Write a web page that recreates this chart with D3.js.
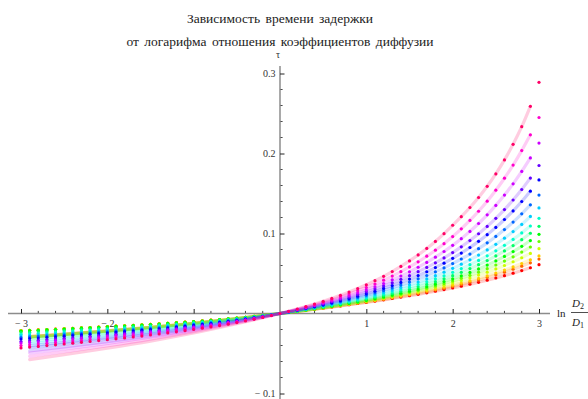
<!DOCTYPE html>
<html><head><meta charset="utf-8">
<script src="https://cdn.jsdelivr.net/npm/d3@7"></script>
<style>html,body{margin:0;padding:0;background:#fff;overflow:hidden}</style>
</head><body><svg id="c" width="588" height="399"></svg>
<script>
// ---------- DATA ----------
const titleLines = ["Зависимость времени задержки", "от логарифма отношения коэффициентов диффузии"];
const yAxisLabel = "τ";
const xSamples = [-3,-2.9,-2.8,-2.7,-2.6,-2.5,-2.4,-2.3,-2.2,-2.1,-2,-1.9,-1.8,-1.7,-1.6,-1.5,-1.4,-1.3,-1.2,-1.1,-1,-0.9,-0.8,-0.7,-0.6,-0.5,-0.4,-0.3,-0.2,-0.1,
  0,0.1,0.2,0.3,0.4,0.5,0.6,0.7,0.8,0.9,1,1.1,1.2,1.3,1.4,1.5,1.6,1.7,1.8,1.9,2,2.1,2.2,2.3,2.4,2.5,2.6,2.7,2.8,2.9,3];
const xMajorTicks = [-3,-2,-1,1,2,3];
const xTickLabels = ["− 3","− 2","","1","2","3"];
const yMajorTicks = [-0.1,0.1,0.2,0.3];
const yTickLabels = ["− 0.1","0.1","0.2","0.3"];

// point values, one array per curve (red ... pink), x = -3 .. 3 step 0.1
const s00 = [-0.0215,-0.0210,-0.0205,-0.0200,-0.0196,-0.0190,-0.0185,-0.0180,-0.0175,-0.0170,-0.0164,-0.0158,-0.0153,-0.0147,-0.0141,-0.0135,-0.0128,-0.0122,-0.0115,-0.0107,-0.0100,-0.0092,-0.0084,-0.0075,-0.0066,-0.0057,-0.0047,-0.0036,-0.0025,-0.0013,
  0,0.0013,0.0026,0.0040,0.0053,0.0067,0.0081,0.0095,0.0110,0.0125,0.0140,0.0155,0.0171,0.0188,0.0205,0.0222,0.0240,0.0259,0.0279,0.0299,0.0320,0.0342,0.0366,0.0390,0.0416,0.0444,0.0473,0.0504,0.0537,0.0572,0.0610];
const s01 = [-0.0215,-0.0210,-0.0205,-0.0200,-0.0196,-0.0190,-0.0185,-0.0180,-0.0175,-0.0170,-0.0164,-0.0158,-0.0153,-0.0147,-0.0141,-0.0135,-0.0128,-0.0122,-0.0115,-0.0107,-0.0100,-0.0092,-0.0084,-0.0075,-0.0066,-0.0057,-0.0047,-0.0036,-0.0025,-0.0013,
  0,0.0013,0.0026,0.0040,0.0054,0.0068,0.0082,0.0097,0.0112,0.0127,0.0143,0.0159,0.0176,0.0194,0.0212,0.0231,0.0250,0.0271,0.0293,0.0315,0.0339,0.0364,0.0391,0.0419,0.0450,0.0482,0.0516,0.0553,0.0592,0.0634,0.0680];
const s02 = [-0.0215,-0.0210,-0.0205,-0.0200,-0.0196,-0.0190,-0.0185,-0.0180,-0.0175,-0.0170,-0.0164,-0.0158,-0.0153,-0.0147,-0.0141,-0.0135,-0.0128,-0.0122,-0.0115,-0.0107,-0.0100,-0.0092,-0.0084,-0.0075,-0.0066,-0.0057,-0.0047,-0.0036,-0.0025,-0.0013,
  0,0.0013,0.0027,0.0041,0.0055,0.0069,0.0084,0.0099,0.0115,0.0131,0.0147,0.0164,0.0182,0.0200,0.0219,0.0239,0.0260,0.0282,0.0304,0.0328,0.0354,0.0380,0.0409,0.0439,0.0471,0.0506,0.0543,0.0582,0.0625,0.0671,0.0720];
const s03 = [-0.0220,-0.0215,-0.0210,-0.0205,-0.0200,-0.0195,-0.0190,-0.0184,-0.0179,-0.0173,-0.0168,-0.0162,-0.0156,-0.0150,-0.0144,-0.0138,-0.0131,-0.0124,-0.0117,-0.0110,-0.0102,-0.0094,-0.0086,-0.0077,-0.0068,-0.0058,-0.0048,-0.0037,-0.0026,-0.0013,
  0,0.0014,0.0028,0.0042,0.0057,0.0072,0.0087,0.0103,0.0119,0.0136,0.0154,0.0172,0.0191,0.0211,0.0232,0.0254,0.0276,0.0301,0.0326,0.0353,0.0382,0.0412,0.0445,0.0480,0.0517,0.0557,0.0600,0.0647,0.0697,0.0751,0.0810];
const s04 = [-0.0220,-0.0215,-0.0210,-0.0205,-0.0200,-0.0195,-0.0190,-0.0184,-0.0179,-0.0173,-0.0168,-0.0162,-0.0156,-0.0150,-0.0144,-0.0138,-0.0131,-0.0124,-0.0117,-0.0110,-0.0102,-0.0094,-0.0086,-0.0077,-0.0068,-0.0058,-0.0048,-0.0037,-0.0026,-0.0013,
  0,0.0014,0.0028,0.0042,0.0057,0.0073,0.0088,0.0105,0.0122,0.0140,0.0158,0.0177,0.0198,0.0219,0.0241,0.0265,0.0290,0.0316,0.0344,0.0374,0.0406,0.0441,0.0477,0.0517,0.0560,0.0606,0.0655,0.0709,0.0768,0.0831,0.0900];
const s05 = [-0.0220,-0.0215,-0.0210,-0.0205,-0.0200,-0.0195,-0.0190,-0.0184,-0.0179,-0.0173,-0.0168,-0.0162,-0.0156,-0.0150,-0.0144,-0.0138,-0.0131,-0.0124,-0.0117,-0.0110,-0.0102,-0.0094,-0.0086,-0.0077,-0.0068,-0.0058,-0.0048,-0.0037,-0.0026,-0.0013,
  0,0.0014,0.0029,0.0044,0.0059,0.0075,0.0091,0.0109,0.0126,0.0145,0.0165,0.0185,0.0207,0.0230,0.0254,0.0279,0.0306,0.0335,0.0366,0.0399,0.0434,0.0472,0.0513,0.0557,0.0605,0.0657,0.0713,0.0774,0.0840,0.0912,0.0990];
const s06 = [-0.0240,-0.0235,-0.0229,-0.0224,-0.0218,-0.0213,-0.0207,-0.0201,-0.0195,-0.0189,-0.0183,-0.0177,-0.0171,-0.0164,-0.0157,-0.0150,-0.0143,-0.0136,-0.0128,-0.0120,-0.0112,-0.0103,-0.0094,-0.0084,-0.0074,-0.0064,-0.0052,-0.0040,-0.0028,-0.0014,
  0,0.0015,0.0031,0.0047,0.0063,0.0080,0.0098,0.0117,0.0136,0.0157,0.0178,0.0200,0.0224,0.0248,0.0275,0.0303,0.0333,0.0364,0.0398,0.0434,0.0473,0.0515,0.0561,0.0610,0.0662,0.0720,0.0782,0.0849,0.0923,0.1003,0.1090];
const s07 = [-0.0260,-0.0254,-0.0248,-0.0242,-0.0236,-0.0230,-0.0224,-0.0218,-0.0212,-0.0205,-0.0198,-0.0192,-0.0185,-0.0178,-0.0170,-0.0163,-0.0155,-0.0147,-0.0139,-0.0130,-0.0121,-0.0111,-0.0102,-0.0091,-0.0080,-0.0069,-0.0057,-0.0044,-0.0030,-0.0016,
  0,0.0016,0.0033,0.0051,0.0068,0.0087,0.0106,0.0127,0.0148,0.0170,0.0193,0.0217,0.0242,0.0270,0.0298,0.0329,0.0361,0.0396,0.0433,0.0472,0.0515,0.0561,0.0610,0.0664,0.0721,0.0784,0.0852,0.0926,0.1007,0.1094,0.1190];
const s08 = [-0.0280,-0.0274,-0.0267,-0.0261,-0.0255,-0.0248,-0.0241,-0.0235,-0.0228,-0.0221,-0.0214,-0.0206,-0.0199,-0.0191,-0.0183,-0.0175,-0.0167,-0.0158,-0.0149,-0.0140,-0.0130,-0.0120,-0.0109,-0.0098,-0.0087,-0.0074,-0.0061,-0.0047,-0.0032,-0.0017,
  0,0.0018,0.0036,0.0054,0.0074,0.0094,0.0115,0.0137,0.0160,0.0184,0.0209,0.0235,0.0263,0.0293,0.0325,0.0358,0.0394,0.0432,0.0473,0.0517,0.0565,0.0616,0.0671,0.0730,0.0795,0.0865,0.0941,0.1024,0.1114,0.1213,0.1320];
const s09 = [-0.0300,-0.0293,-0.0287,-0.0280,-0.0273,-0.0266,-0.0259,-0.0251,-0.0244,-0.0237,-0.0229,-0.0221,-0.0213,-0.0205,-0.0197,-0.0188,-0.0179,-0.0170,-0.0160,-0.0150,-0.0140,-0.0129,-0.0117,-0.0105,-0.0093,-0.0079,-0.0065,-0.0051,-0.0035,-0.0018,
  0,0.0019,0.0038,0.0059,0.0080,0.0102,0.0124,0.0148,0.0173,0.0200,0.0227,0.0256,0.0287,0.0320,0.0355,0.0393,0.0433,0.0475,0.0521,0.0570,0.0624,0.0681,0.0743,0.0810,0.0883,0.0963,0.1049,0.1143,0.1246,0.1358,0.1480];
const s10 = [-0.0320,-0.0313,-0.0306,-0.0298,-0.0291,-0.0284,-0.0276,-0.0268,-0.0260,-0.0252,-0.0244,-0.0236,-0.0227,-0.0219,-0.0210,-0.0200,-0.0191,-0.0181,-0.0171,-0.0160,-0.0149,-0.0137,-0.0125,-0.0112,-0.0099,-0.0085,-0.0070,-0.0054,-0.0037,-0.0019,
  0,0.0020,0.0041,0.0063,0.0085,0.0109,0.0134,0.0160,0.0187,0.0216,0.0246,0.0278,0.0313,0.0349,0.0388,0.0430,0.0474,0.0522,0.0574,0.0629,0.0690,0.0755,0.0825,0.0902,0.0985,0.1076,0.1175,0.1282,0.1400,0.1529,0.1670];
const s11 = [-0.0350,-0.0342,-0.0334,-0.0326,-0.0318,-0.0310,-0.0302,-0.0293,-0.0285,-0.0276,-0.0267,-0.0258,-0.0249,-0.0239,-0.0229,-0.0219,-0.0209,-0.0198,-0.0187,-0.0175,-0.0163,-0.0150,-0.0137,-0.0123,-0.0108,-0.0093,-0.0076,-0.0059,-0.0041,-0.0021,
  0,0.0022,0.0045,0.0069,0.0094,0.0120,0.0147,0.0175,0.0205,0.0237,0.0271,0.0306,0.0344,0.0384,0.0427,0.0473,0.0523,0.0576,0.0633,0.0695,0.0761,0.0833,0.0912,0.0997,0.1089,0.1190,0.1299,0.1419,0.1550,0.1693,0.1850];
const s12 = [-0.0370,-0.0362,-0.0353,-0.0345,-0.0336,-0.0328,-0.0319,-0.0310,-0.0301,-0.0292,-0.0282,-0.0273,-0.0263,-0.0253,-0.0242,-0.0232,-0.0221,-0.0209,-0.0197,-0.0185,-0.0172,-0.0159,-0.0145,-0.0130,-0.0114,-0.0098,-0.0081,-0.0062,-0.0043,-0.0022,
  0,0.0023,0.0048,0.0073,0.0100,0.0128,0.0157,0.0189,0.0221,0.0256,0.0293,0.0333,0.0375,0.0421,0.0469,0.0521,0.0578,0.0638,0.0704,0.0775,0.0852,0.0935,0.1026,0.1125,0.1234,0.1351,0.1480,0.1621,0.1776,0.1945,0.2130];
const s13 = [-0.0400,-0.0391,-0.0382,-0.0373,-0.0364,-0.0354,-0.0345,-0.0335,-0.0325,-0.0315,-0.0305,-0.0295,-0.0284,-0.0273,-0.0262,-0.0250,-0.0239,-0.0226,-0.0213,-0.0200,-0.0186,-0.0172,-0.0156,-0.0140,-0.0124,-0.0106,-0.0087,-0.0067,-0.0046,-0.0024,
  0,0.0025,0.0052,0.0080,0.0109,0.0140,0.0172,0.0207,0.0244,0.0283,0.0324,0.0369,0.0416,0.0468,0.0523,0.0582,0.0646,0.0716,0.0791,0.0873,0.0962,0.1058,0.1163,0.1278,0.1404,0.1541,0.1691,0.1855,0.2036,0.2233,0.2450];
const s14 = [-0.0430,-0.0420,-0.0411,-0.0401,-0.0391,-0.0381,-0.0371,-0.0360,-0.0350,-0.0339,-0.0328,-0.0317,-0.0306,-0.0294,-0.0282,-0.0269,-0.0256,-0.0243,-0.0229,-0.0215,-0.0200,-0.0184,-0.0168,-0.0151,-0.0133,-0.0114,-0.0094,-0.0073,-0.0050,-0.0026,
  0,0.0027,0.0056,0.0086,0.0118,0.0152,0.0189,0.0227,0.0268,0.0312,0.0359,0.0410,0.0465,0.0524,0.0588,0.0657,0.0732,0.0813,0.0901,0.0998,0.1103,0.1210,0.1325,0.1450,0.1590,0.1745,0.1920,0.2115,0.2335,0.2590,0.2890];
const seriesValues = [s00,s01,s02,s03,s04,s05,s06,s07,s08,s09,s10,s11,s12,s13,s14];

// the faint lines run lower than the points on the negative side
const lineLeftX = [-2.9,-2.5,-2,-1.5,-1,-0.5];
const lineLeftValues = [
  [-0.0288,-0.0257,-0.0217,-0.0172,-0.0122,-0.0064],
  [-0.0288,-0.0257,-0.0217,-0.0172,-0.0122,-0.0064],
  [-0.0288,-0.0257,-0.0217,-0.0172,-0.0122,-0.0064],
  [-0.0295,-0.0263,-0.0222,-0.0176,-0.0125,-0.0065],
  [-0.0295,-0.0263,-0.0222,-0.0176,-0.0125,-0.0065],
  [-0.0295,-0.0263,-0.0222,-0.0176,-0.0125,-0.0065],
  [-0.0321,-0.0287,-0.0242,-0.0192,-0.0136,-0.0071],
  [-0.0348,-0.0311,-0.0262,-0.0208,-0.0148,-0.0077],
  [-0.0375,-0.0335,-0.0282,-0.0224,-0.0159,-0.0083],
  [-0.0402,-0.0359,-0.0302,-0.0240,-0.0170,-0.0089],
  [-0.0429,-0.0383,-0.0322,-0.0256,-0.0182,-0.0095],
  [-0.0469,-0.0419,-0.0353,-0.0280,-0.0199,-0.0104],
  [-0.0496,-0.0443,-0.0373,-0.0296,-0.0210,-0.0110],
  [-0.0536,-0.0478,-0.0403,-0.0321,-0.0227,-0.0119],
  [-0.0576,-0.0514,-0.0433,-0.0345,-0.0244,-0.0128]
];

// ---------- STYLE ----------
const seriesHues = [0,24,48,72,96,120,144,168,192,216,240,264,288,312,336];
const colorOf = i => d3.hsl(seriesHues[i], 1, 0.5).formatHex();
const serif = "'Liberation Serif','DejaVu Serif',serif";

// ---------- CHART ----------
const svg = d3.select("#c");
const x = d3.scaleLinear().domain([-3, 3]).range([21, 539]);
const y = d3.scaleLinear().domain([0, 0.3]).range([313.5, 73.5]);

// title
svg.append("g").selectAll("text").data(titleLines).join("text")
  .attr("x", x(0)).attr("y", (d, i) => 23 + i * 22.5)
  .attr("text-anchor", "middle").attr("font-family", serif).attr("font-size", 13.5)
  .attr("fill", "#222").attr("word-spacing", 2).text(d => d);

// x axis
const gx = svg.append("g").attr("transform", `translate(0,${y(0)})`);
gx.append("line").attr("x1", 8).attr("x2", 550).attr("stroke", "#8c8c8c").attr("stroke-width", 1.5);
const xMinor = d3.range(-3, 3.01, 0.2).filter(v => Math.abs(v - Math.round(v)) > 1e-6);
gx.selectAll("line.mn").data(xMinor).join("line").attr("class", "mn")
  .attr("x1", d => x(d)).attr("x2", d => x(d)).attr("y1", -0.5).attr("y2", -2.6)
  .attr("stroke", "#333").attr("stroke-width", 0.9);
gx.call(d3.axisBottom(x).tickValues(xMajorTicks).tickFormat((d, i) => xTickLabels[i])
  .tickSize(-4.5).tickPadding(6.3));
gx.select(".domain").remove();
gx.selectAll(".tick line").attr("stroke", "#222").attr("stroke-width", 1);
gx.selectAll(".tick text").attr("font-family", serif).attr("font-size", 10).attr("fill", "#333");

// y axis
const gy = svg.append("g").attr("transform", `translate(${x(0)},0)`);
gy.append("line").attr("y1", 66).attr("y2", 399).attr("stroke", "#8c8c8c").attr("stroke-width", 1.5);
const yMinor = d3.range(-0.1, 0.3001, 0.02).filter(v => Math.abs(v * 10 - Math.round(v * 10)) > 1e-6);
gy.selectAll("line.mn").data(yMinor).join("line").attr("class", "mn")
  .attr("y1", d => y(d)).attr("y2", d => y(d)).attr("x1", 0.5).attr("x2", 2.6)
  .attr("stroke", "#333").attr("stroke-width", 0.9);
gy.call(d3.axisLeft(y).tickValues(yMajorTicks).tickFormat((d, i) => yTickLabels[i])
  .tickSize(-4.5).tickPadding(4.5));
gy.select(".domain").remove();
gy.selectAll(".tick line").attr("stroke", "#222").attr("stroke-width", 1);
gy.selectAll(".tick text").attr("font-family", serif).attr("font-size", 10).attr("fill", "#333");

// axis labels
svg.append("text").attr("x", 278).attr("y", 58).attr("text-anchor", "middle")
  .attr("font-family", serif).attr("font-size", 10).attr("fill", "#333").text(yAxisLabel);
const xl = svg.append("g").attr("font-family", serif).attr("fill", "#222");
xl.append("text").attr("x", 557).attr("y", 317).attr("font-size", 11).text("ln");
const num = xl.append("text").attr("x", 572).attr("y", 307).attr("font-size", 11);
num.append("tspan").attr("font-style", "italic").text("D");
num.append("tspan").attr("font-size", 8).attr("dy", 2).text("2");
xl.append("line").attr("x1", 571).attr("x2", 592).attr("y1", 312.5).attr("y2", 312.5)
  .attr("stroke", "#222").attr("stroke-width", 0.8);
const den = xl.append("text").attr("x", 572).attr("y", 326).attr("font-size", 11);
den.append("tspan").attr("font-style", "italic").text("D");
den.append("tspan").attr("font-size", 8).attr("dy", 2).text("1");

// lines (faint, thick)
const lineGen = d3.line().x(d => x(d[0])).y(d => y(d[1])).curve(d3.curveMonotoneX);
const gLines = svg.append("g");
seriesValues.forEach((vals, i) => {
  const pts = lineLeftX.map((xv, k) => [xv, lineLeftValues[i][k]]);
  xSamples.forEach((xv, k) => { if (xv >= 0 && xv <= 2.9001) pts.push([xv, vals[k]]); });
  gLines.append("path").attr("d", lineGen(pts)).attr("fill", "none")
    .attr("stroke", colorOf(i)).attr("stroke-opacity", 0.2).attr("stroke-width", 3.2)
    .attr("stroke-linecap", "round");
});

// points
const gPts = svg.append("g");
seriesValues.forEach((vals, i) => {
  gPts.append("g").selectAll("circle").data(vals).join("circle")
    .attr("cx", (d, k) => x(xSamples[k])).attr("cy", d => y(d)).attr("r", 1.6)
    .attr("fill", colorOf(i));
});
</script>
</body></html>
